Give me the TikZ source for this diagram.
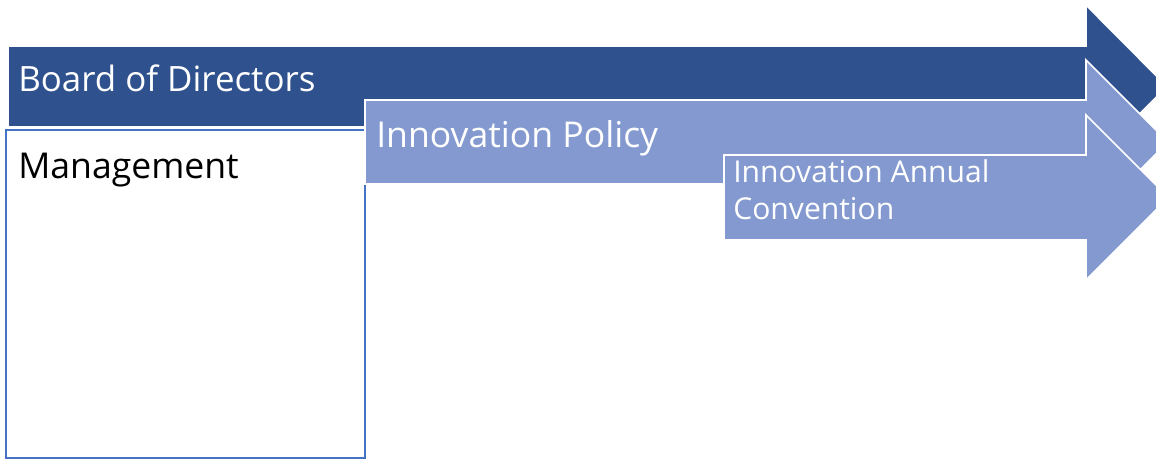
\documentclass[tikz,border=0pt]{standalone}
\usepackage{fontspec}
\setmainfont{Open Sans}
\usetikzlibrary{positioning}

\definecolor{boardblue}{HTML}{2F528F}
\definecolor{stageblue}{HTML}{8399CF}
\definecolor{frameblue}{HTML}{4472C4}

\tikzset{
  band/.style={fill=#1,draw=white,line width=1.2pt,line join=miter},
  caption/.style={inner sep=0pt,anchor=base west,text=white,align=left},
}

\begin{document}
\begin{tikzpicture}[x=0.025cm,y=-0.025cm]
  \useasboundingbox (0,0) rectangle (1156,459);

  % management column
  \draw[frameblue,line width=1.5pt,fill=white] (6,130) rectangle (365,458);

  % arrows, back to front
  \path[band=boardblue] (8,46) -- (1086,46) -- (1086,5) -- (1167,86.5)
       -- (1086,168) -- (1086,127) -- (8,127) -- cycle;
  \path[band=stageblue] (365,100) -- (1086,100) -- (1086,60) -- (1168,142)
       -- (1086,224) -- (1086,184) -- (365,184) -- cycle;
  \path[band=stageblue] (724,155) -- (1086,155) -- (1086,115) -- (1168.5,197.5)
       -- (1086,280) -- (1086,240) -- (724,240) -- cycle;

  \node[caption,font=\fontsize{24.8}{30}\selectfont] (board) at (18,92) {Board of Directors};
  \node[caption,text=black,font=\fontsize{25.3}{30}\selectfont] (mgmt) at (18,178) {Management};
  \node[caption,font=\fontsize{25.3}{30}\selectfont] (policy) at (376,148) {Innovation Policy};
  % base anchor sits on the last line
  \node[caption,font=\fontsize{21.4}{27}\selectfont] (convention) at (733,220) {Innovation Annual\\Convention};
\end{tikzpicture}
\end{document}
